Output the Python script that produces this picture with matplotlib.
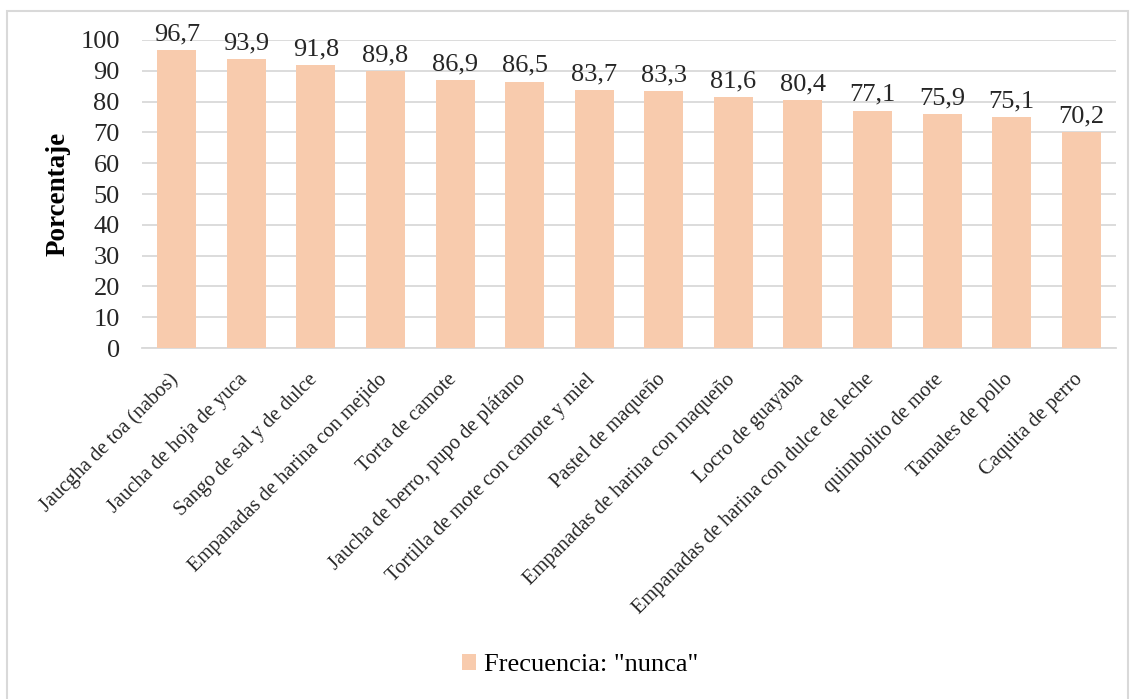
import matplotlib
matplotlib.use("Agg")
import matplotlib.pyplot as plt
import matplotlib.transforms as mtransforms
from matplotlib.patches import Rectangle

# Data
platos = [
    "Jaucgha de toa (nabos)",
    "Jaucha de hoja de yuca",
    "Sango de sal y de dulce",
    "Empanadas de harina con mejido",
    "Torta de camote",
    "Jaucha de berro, pupo de plátano",
    "Tortilla de mote con camote y miel",
    "Pastel de maqueño",
    "Empanadas de harina con maqueño",
    "Locro de guayaba",
    "Empanadas de harina con dulce de leche",
    "quimbolito de mote",
    "Tamales de pollo",
    "Caquita de perro",
]
nunca = [96.7, 93.9, 91.8, 89.8, 86.9, 86.5, 83.7, 83.3, 81.6, 80.4, 77.1, 75.9, 75.1, 70.2]
serie = 'Frecuencia: "nunca"'
yticks = list(range(0, 101, 10))

plt.rcParams["font.family"] = ["Liberation Serif", "DejaVu Serif"]

fig = plt.figure(figsize=(11.34, 6.99), dpi=100)
ax = fig.add_axes([0.1252, 0.5021, 0.8589, 0.4407])

# outer border like the Excel chart area
fig.patches.append(Rectangle((7 / 1134, -0.01), 1121 / 1134, 1 - 11 / 699 + 0.01,
                             transform=fig.transFigure, fill=False,
                             edgecolor="#d9d9d9", linewidth=1.5))

x = list(range(len(platos)))
ax.bar(x, nunca, width=0.56, color="#F8CBAD", label=serie, zorder=3)

for xi, v in zip(x, nunca):
    ax.text(xi, v + 1.5, f"{v:.1f}".replace(".", ","), ha="center", va="bottom",
            fontsize=19, color="#262626", clip_on=False)

ax.set_xlim(-0.5, len(platos) - 0.5)
ax.set_ylim(0, 100)
ax.set_yticks(yticks)
ax.tick_params(axis="y", length=0, labelsize=19, colors="#262626", pad=16)
ax.tick_params(axis="x", length=0, labelsize=14.8, colors="#262626", pad=0)
ax.set_xticks(x)
ax.set_xticklabels(platos, rotation=45, ha="right", va="top", rotation_mode="anchor")

# Excel puts the end of the rotated label just below the tick
shift = mtransforms.ScaledTranslation(-8 / 100, -22 / 100, fig.dpi_scale_trans)
for lbl in ax.get_xticklabels():
    lbl.set_transform(lbl.get_transform() + shift)

ax.grid(axis="y", color="#d9d9d9", linewidth=1.3, zorder=0)
for s in ["top", "right", "left"]:
    ax.spines[s].set_visible(False)
ax.spines["bottom"].set_color("#d9d9d9")
ax.spines["bottom"].set_linewidth(1.3)

ax.set_ylabel("Porcentaje", fontsize=19.5, fontweight="bold", labelpad=7)

fig.legend(loc="center", bbox_to_anchor=(580 / 1134, 1 - 665 / 699), frameon=False,
           fontsize=19, handlelength=0.55, handleheight=0.55, handletextpad=0.3)

fig.savefig("out.png", dpi=100)
